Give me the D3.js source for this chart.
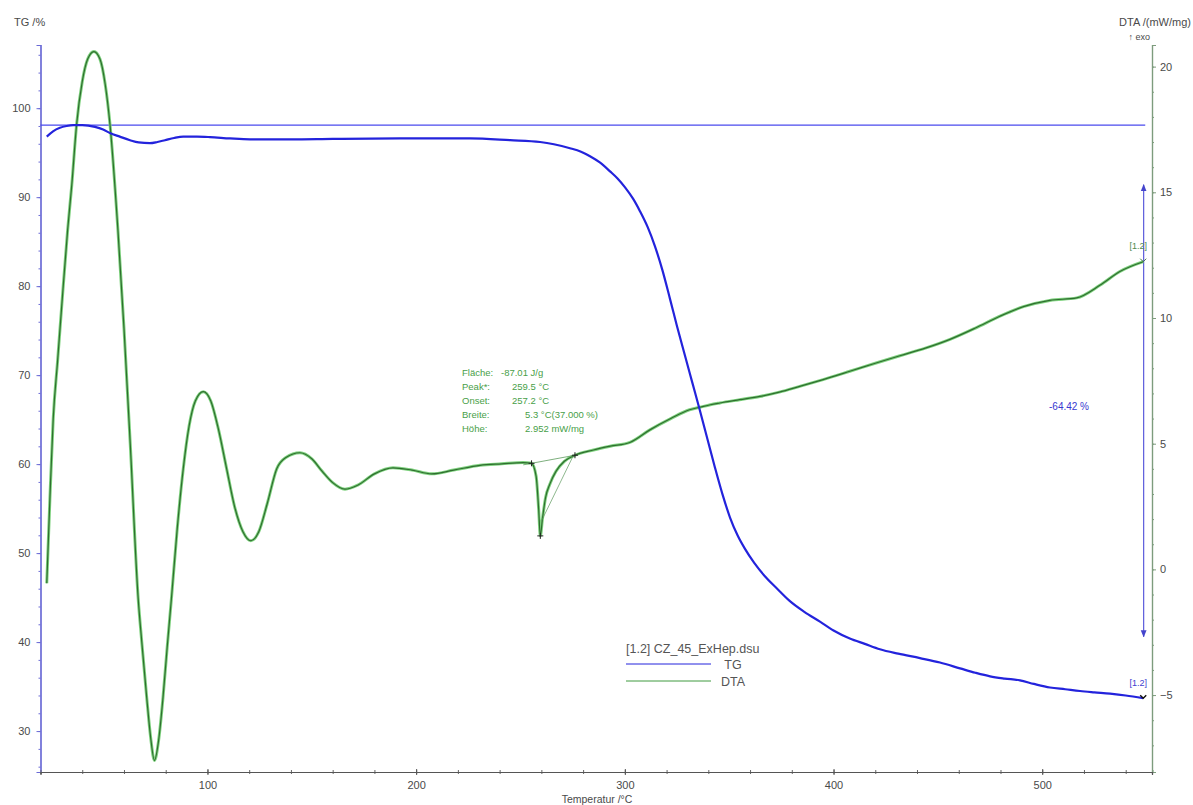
<!DOCTYPE html>
<html>
<head>
<meta charset="utf-8">
<script src="https://cdn.jsdelivr.net/npm/d3@7/dist/d3.min.js"></script>
<style>
  body { margin: 0; background: #fff; }
  text { font-family: "Liberation Sans", Arial, sans-serif; }
</style>
</head>
<body>
<svg id="chart" width="1193" height="805"></svg>
<script>
// ---- data -------------------------------------------------------------
// TG mass curve: [temperature °C, mass %]
const tgCurve = [
  [23.0,96.8],[26,97.4],[29.3,97.8],[32.5,98.0],[35.7,98.1],[40,98.1],[46.1,97.9],[50,97.6],
  [53.3,97.2],[58,96.8],[62.9,96.4],[67,96.15],[72.4,96.07],[76,96.2],[79.6,96.4],[84,96.65],
  [88.4,96.8],[95,96.8],[101.2,96.75],[110.8,96.6],[120.4,96.5],[140,96.5],[160,96.55],
  [192.2,96.6],[225.8,96.6],[245,96.4],[259.4,96.2],[266,95.95],[273.7,95.5],[279,95.1],
  [283.3,94.6],[288,93.9],[292.9,92.9],[296.5,92.1],[300.1,91.1],[304,89.8],[307.3,88.4],
  [311,86.6],[314.4,84.5],[318,81.8],[321.6,78.6],[325,75.5],[328.8,72.2],[332.4,69.1],
  [336,66.0],[339.6,62.8],[343.2,59.6],[346.8,56.6],[350.4,54.0],[354,52.0],[357.5,50.5],
  [362,48.9],[367.1,47.4],[373,46.0],[379.1,44.6],[386,43.4],[393.5,42.3],[400,41.3],
  [407.8,40.4],[415,39.8],[422.2,39.2],[431,38.7],[441.4,38.2],[451,37.7],[460.6,37.05],
  [468,36.55],[475,36.15],[482,35.9],[489.3,35.7],[496,35.3],[503.7,34.9],[511,34.7],
  [518.1,34.5],[525,34.35],[532.5,34.2],[540,34.0],[548.4,33.7]
];

// DTA signal: [temperature °C, mW/mg]
const dtaCurve = [
  [23.0,-0.55],[24.5,2.8],[26.1,6.0],[28.2,8.3],[30.1,10.4],[33.0,13.5],[35.0,15.3],[37.3,17.7],
  [40.0,19.4],[42.6,20.3],[45.6,20.6],[48.5,20.3],[51.0,19.3],[53.3,17.7],[57.1,13.5],[60.0,9.6],
  [63.0,5.0],[66.8,-1.15],[68.5,-2.86],[70.9,-5.1],[72.8,-6.7],[74.6,-7.6],[76.6,-6.8],[78.7,-5.1],
  [80.7,-3.1],[82.8,-1.1],[85.5,1.6],[88.4,4.0],[91.2,5.7],[94.2,6.7],[98.0,7.07],[101.6,6.7],
  [105.2,5.6],[109.2,4.0],[113.0,2.5],[117.0,1.5],[120.8,1.14],[124.6,1.5],[128.6,2.6],[133.2,4.0],
  [137.6,4.45],[144.3,4.64],[150.0,4.4],[155.0,3.9],[160.0,3.45],[165.9,3.19],[172.0,3.35],
  [180.0,3.8],[188.9,4.04],[198.0,3.95],[207.4,3.8],[218.0,3.95],[230.6,4.14],[241.0,4.2],
  [251.3,4.25],[255.3,4.22],[257.5,3.7],[258.7,2.4],[259.5,1.33],[260.5,2.0],[262.0,2.85],
  [264.1,3.4],[267.0,3.9],[271.0,4.3],[276.1,4.54],[285.0,4.75],[293.0,4.9],[302.4,5.05],
  [312.0,5.55],[322.0,6.0],[331.0,6.35],[336.0,6.45],[341.0,6.55],[345.5,6.62],[355.0,6.75],
  [364.7,6.88],[374.0,7.05],[383.8,7.28],[395.0,7.55],[407.8,7.88],[420.0,8.2],[431.8,8.5],
  [444.0,8.8],[455.8,9.15],[468.0,9.6],[479.7,10.07],[491.0,10.45],[503.6,10.7],[516.5,10.8],
  [527.6,11.3],[537.2,11.85],[548.4,12.24]
];

// peak evaluation: integration limits and peak point [°C, mW/mg]
const peakStart = [255.3, 4.22];
const peakEnd = [276.1, 4.54];
const peakTemp = 259.5;
const peakHeight = 2.952;

const peakLabels = ["Fläche:", "Peak*:", "Onset:", "Breite:", "Höhe:"];
const peakValues = ["-87.01 J/g", "259.5 °C", "257.2 °C", "5.3 °C(37.000 %)", "2.952 mW/mg"];

const tgReference = 98.1;      // initial mass level
const massStep = -64.42;       // total mass change, %
const stepArrow = [91.4, 40.6]; // arrow span on the TG scale

const xTicks = [100, 200, 300, 400, 500];
const tgTicks = [30, 40, 50, 60, 70, 80, 90, 100];
const dtaTicks = [-5, 0, 5, 10, 15, 20];

const fileName = "[1.2] CZ_45_ExHep.dsu";
const seriesNames = ["TG", "DTA"];

// ---- layout ------------------------------------------------------------
const svg = d3.select("#chart");
const L = 40.5, R = 1152, T = 45, B = 772;

const x = d3.scaleLinear().domain([20, 552.6]).range([L, R]);
const yTG = d3.scaleLinear().domain([25.4, 107.1]).range([B, T]);
const yDTA = d3.scaleLinear().domain([-8.06, 20.86]).range([B, T]);

const tgColor = "#2323dc";
const dtaDark = "#2f6e2f";
const dtaLight = "#7fd27f";
const leftAxisColor = "#6b6bd6";
const rightAxisColor = "#7d9c7d";
const tickText = "#4a4a4a";

svg.append("rect").attr("width", 1193).attr("height", 805).attr("fill", "#fff");

// ---- axes --------------------------------------------------------------
function styleAxis(g, color) {
  g.select(".domain").attr("stroke", color).attr("stroke-width", 1.2);
  g.selectAll(".tick line").attr("stroke", color);
  g.selectAll(".tick text").attr("fill", tickText).style("font-size", "11px")
    .style("font-family", "'Liberation Sans', Arial, sans-serif");
}

// left TG axis
const gLeftMinor = svg.append("g").attr("transform", `translate(${L},0)`)
  .call(d3.axisLeft(yTG).tickValues(d3.range(26, 107, 2)).tickSize(2).tickFormat(""));
styleAxis(gLeftMinor, leftAxisColor);
const gLeft = svg.append("g").attr("transform", `translate(${L},0)`)
  .call(d3.axisLeft(yTG).tickValues(tgTicks).tickSize(4).tickPadding(6));
styleAxis(gLeft, leftAxisColor);

// right DTA axis
const gRightMinor = svg.append("g").attr("transform", `translate(${R},0)`)
  .call(d3.axisRight(yDTA).tickValues(d3.range(-8, 21, 1)).tickSize(2).tickFormat(""));
styleAxis(gRightMinor, rightAxisColor);
const gRight = svg.append("g").attr("transform", `translate(${R},0)`)
  .call(d3.axisRight(yDTA).tickValues(dtaTicks).tickSize(4).tickPadding(4));
styleAxis(gRight, rightAxisColor);

// bottom temperature axis (ticks cross the line)
const gBottomMinor = svg.append("g").attr("transform", `translate(0,${B})`)
  .call(d3.axisBottom(x).tickValues(d3.range(20, 551, 20)).tickSize(2).tickFormat(""));
styleAxis(gBottomMinor, "#666");
gBottomMinor.selectAll(".tick line").attr("y1", -2);
const gBottom = svg.append("g").attr("transform", `translate(0,${B})`)
  .call(d3.axisBottom(x).tickValues(xTicks).tickSize(3).tickPadding(6));
styleAxis(gBottom, "#555");
gBottom.selectAll(".tick line").attr("y1", -3);

// axis titles
svg.append("text").attr("x", 14).attr("y", 26).attr("fill", tickText)
  .style("font-size", "11px").text("TG /%");
svg.append("text").attr("x", 1191).attr("y", 26).attr("text-anchor", "end").attr("fill", tickText)
  .style("font-size", "11px").text("DTA /(mW/mg)");
svg.append("text").attr("x", 1150).attr("y", 40).attr("text-anchor", "end").attr("fill", tickText)
  .style("font-size", "9px").text("↑ exo");
svg.append("text").attr("x", 597).attr("y", 803).attr("text-anchor", "middle").attr("fill", tickText)
  .style("font-size", "10.5px").text("Temperatur /°C");

// ---- TG reference level and mass step -----------------------------------
svg.append("line")
  .attr("x1", L).attr("x2", x(548.4) + 2)
  .attr("y1", yTG(tgReference)).attr("y2", yTG(tgReference))
  .attr("stroke", "#4a4aee").attr("stroke-width", 1.1);

const defs = svg.append("defs");
defs.append("marker").attr("id", "arrowHead").attr("viewBox", "0 0 10 10")
  .attr("refX", 9).attr("refY", 5).attr("markerWidth", 6).attr("markerHeight", 7)
  .attr("orient", "auto-start-reverse")
  .append("path").attr("d", "M0,1 L10,5 L0,9 Z").attr("fill", "#4444cc");

svg.append("line")
  .attr("x1", x(548.6)).attr("x2", x(548.6))
  .attr("y1", yTG(stepArrow[0])).attr("y2", yTG(stepArrow[1]))
  .attr("stroke", "#5b5bdc").attr("stroke-width", 1.2)
  .attr("marker-start", "url(#arrowHead)").attr("marker-end", "url(#arrowHead)");

svg.append("text").attr("x", 1069).attr("y", 410).attr("text-anchor", "middle")
  .attr("fill", "#3838d0").style("font-size", "10px")
  .text(`${massStep.toFixed(2)} %`);

// ---- curves ------------------------------------------------------------
const tgLine = d3.line().x(d => x(d[0])).y(d => yTG(d[1])).curve(d3.curveMonotoneX);
const dtaLine = d3.line().x(d => x(d[0])).y(d => yDTA(d[1])).curve(d3.curveMonotoneX);

// peak baseline between integration limits
const baseAt = t => peakStart[1] + (peakEnd[1] - peakStart[1]) * (t - peakStart[0]) / (peakEnd[0] - peakStart[0]);
const peakMin = baseAt(peakTemp) - peakHeight;

svg.append("path").datum(dtaCurve).attr("d", dtaLine)
  .attr("fill", "none").attr("stroke", dtaLight).attr("stroke-width", 3).attr("stroke-linejoin", "round");
svg.append("path").datum(dtaCurve).attr("d", dtaLine)
  .attr("fill", "none").attr("stroke", dtaDark).attr("stroke-width", 1.2).attr("stroke-linejoin", "round");

// integration baseline and tangent
svg.append("line")
  .attr("x1", x(peakStart[0] - 4)).attr("y1", yDTA(baseAt(peakStart[0] - 4)))
  .attr("x2", x(peakEnd[0])).attr("y2", yDTA(peakEnd[1]))
  .attr("stroke", "#5d9a5d").attr("stroke-width", 0.8);
svg.append("line")
  .attr("x1", x(peakTemp + 0.6)).attr("y1", yDTA(peakMin + 0.6))
  .attr("x2", x(peakEnd[0] - 1)).attr("y2", yDTA(peakEnd[1] - 0.05))
  .attr("stroke", "#5d9a5d").attr("stroke-width", 0.7);

// evaluation markers
const crosses = [peakStart, [peakTemp, peakMin], peakEnd];
crosses.forEach(p => {
  const cx = x(p[0]), cy = yDTA(p[1]);
  svg.append("path").attr("d", `M${cx - 3},${cy}H${cx + 3}M${cx},${cy - 3}V${cy + 3}`)
    .attr("stroke", "#222").attr("stroke-width", 1);
});

svg.append("path").datum(tgCurve).attr("d", tgLine)
  .attr("fill", "none").attr("stroke", tgColor).attr("stroke-width", 2.2).attr("stroke-linejoin", "round");

// end-of-curve markers with sample tags
const tgEnd = tgCurve[tgCurve.length - 1];
const dtaEnd = dtaCurve[dtaCurve.length - 1];
svg.append("path")
  .attr("d", `M${x(tgEnd[0]) - 3},${yTG(tgEnd[1]) - 3}L${x(tgEnd[0])},${yTG(tgEnd[1])}L${x(tgEnd[0]) + 3},${yTG(tgEnd[1]) - 3}`)
  .attr("fill", "none").attr("stroke", "#111").attr("stroke-width", 1.4);
svg.append("path")
  .attr("d", `M${x(dtaEnd[0]) - 3},${yDTA(dtaEnd[1]) - 3}L${x(dtaEnd[0])},${yDTA(dtaEnd[1])}L${x(dtaEnd[0]) + 3},${yDTA(dtaEnd[1]) - 3}`)
  .attr("fill", "none").attr("stroke", "#447744").attr("stroke-width", 1);
svg.append("text").attr("x", x(dtaEnd[0]) - 5).attr("y", yDTA(dtaEnd[1]) - 13).attr("text-anchor", "middle")
  .attr("fill", "#4f8a4f").style("font-size", "9px").text("[1.2]");
svg.append("text").attr("x", x(tgEnd[0]) - 5).attr("y", yTG(tgEnd[1]) - 12).attr("text-anchor", "middle")
  .attr("fill", "#4040d0").style("font-size", "9px").text("[1.2]");

// ---- peak evaluation text ---------------------------------------------
const valueX = [501, 512, 512, 525, 525];
peakLabels.forEach((lab, i) => {
  const yy = 376 + i * 14;
  svg.append("text").attr("x", 462).attr("y", yy).attr("fill", "#48a048")
    .style("font-size", "9.5px").text(lab);
  svg.append("text").attr("x", valueX[i]).attr("y", yy).attr("fill", "#48a048")
    .style("font-size", "9.5px").text(peakValues[i]);
});

// ---- legend --------------------------------------------------------------
svg.append("text").attr("x", 626).attr("y", 653).attr("fill", "#555")
  .style("font-size", "12.5px").text(fileName);
const legendColors = [tgColor, "#3f9a3f"];
seriesNames.forEach((name, i) => {
  const yy = 664 + i * 17;
  svg.append("line").attr("x1", 626).attr("x2", 711).attr("y1", yy).attr("y2", yy)
    .attr("stroke", legendColors[i]).attr("stroke-width", 1);
  svg.append("text").attr("x", 733).attr("y", yy + 5).attr("text-anchor", "middle")
    .attr("fill", "#555").style("font-size", "12.5px").text(name);
});
</script>
</body>
</html>
